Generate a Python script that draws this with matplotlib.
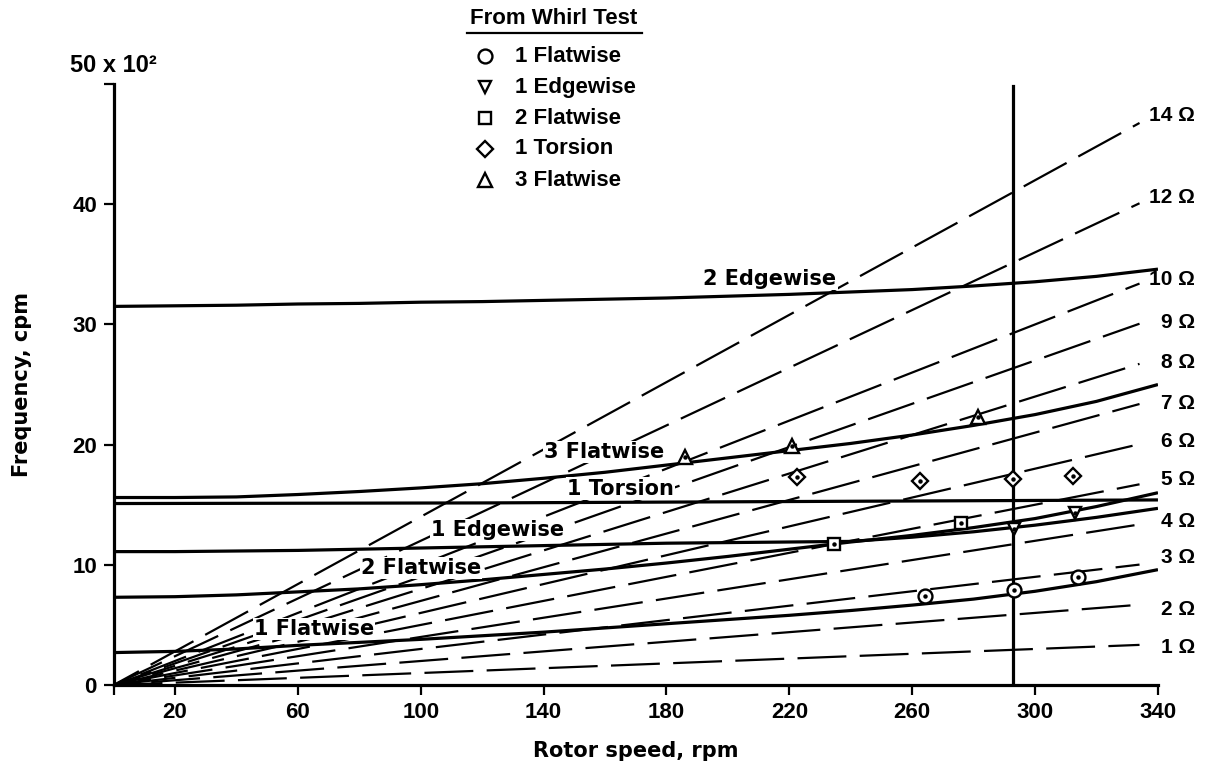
import matplotlib
matplotlib.use("Agg")
import matplotlib.pyplot as plt
from matplotlib.lines import Line2D

plt.rcParams['font.family'] = ['Liberation Sans', 'DejaVu Sans']
plt.rcParams['font.weight'] = 'bold'

# Blade natural frequencies (x 100 cpm) against rotor speed (rpm)
rpm = [0, 20, 40, 60, 80, 100, 120, 140, 160, 180, 200, 220, 240, 260, 280, 300, 320, 340]
flat1 = [2.7, 2.8, 3.0, 3.3, 3.55, 3.8, 4.1, 4.4, 4.75, 5.1, 5.45, 5.8, 6.2, 6.65, 7.15, 7.8, 8.6, 9.6]
flat2 = [7.3, 7.35, 7.5, 7.75, 8.0, 8.35, 8.75, 9.2, 9.65, 10.15, 10.7, 11.3, 11.9, 12.45, 13.1, 13.85, 14.85, 16.0]
edge1 = [11.1, 11.1, 11.15, 11.2, 11.3, 11.4, 11.5, 11.6, 11.7, 11.8, 11.85, 11.9, 11.95, 12.3, 12.75, 13.3, 13.95, 14.7]
flat3 = [15.6, 15.6, 15.65, 15.85, 16.1, 16.4, 16.75, 17.2, 17.7, 18.3, 18.9, 19.5, 20.1, 20.8, 21.6, 22.5, 23.6, 25.0]
edge2 = [31.5, 31.55, 31.6, 31.7, 31.75, 31.85, 31.9, 32.0, 32.1, 32.2, 32.35, 32.5, 32.7, 32.9, 33.2, 33.55, 34.0, 34.6]
torsion_rpm = [0, 120, 250, 340]
torsion1 = [15.1, 15.15, 15.3, 15.4]

# whirl test points
flat1_test_rpm = [264, 293, 314]
flat1_test = [7.4, 7.9, 8.95]
edge1_test_rpm = [293, 313]
edge1_test = [13.0, 14.3]
flat2_test_rpm = [234.5, 276]
flat2_test = [11.7, 13.5]
torsion_test_rpm = [222.5, 262.5, 292.7, 312.5]
torsion_test = [17.3, 17.0, 17.1, 17.4]
flat3_test_rpm = [186, 221, 281.5]
flat3_test = [19.0, 19.9, 22.3]

# per-rev excitation lines
orders = [1, 2, 3, 4, 5, 6, 7, 8, 9, 10, 12, 14]
order_label_y = [3.15, 6.3, 10.6, 13.6, 17.1, 20.3, 23.4, 26.85, 30.2, 33.7, 40.6, 47.4]
order_end_rpm = 334
operating_rpm = 292.7

fig = plt.figure(figsize=(12.11, 7.66), dpi=100)
ax = fig.add_axes([0.0938, 0.1057, 0.8624, 0.7846])
ax.set_xlim(0, 340)
ax.set_ylim(0, 50)

for i, n in enumerate(orders):
    # stagger the dash phase so the gaps don't line up near the origin
    phase = (i * 11) % 28
    ax.plot([0, order_end_rpm], [0, n * order_end_rpm / 100], color='black', lw=1.6,
            linestyle=(phase, (22, 6)), solid_capstyle='butt', zorder=2)

curve_kw = dict(color='black', lw=2.3, zorder=3, solid_capstyle='butt')
ax.plot(rpm, flat1, **curve_kw)
ax.plot(rpm, flat2, **curve_kw)
ax.plot(rpm, edge1, **curve_kw)
ax.plot(rpm, flat3, **curve_kw)
ax.plot(rpm, edge2, **curve_kw)
ax.plot(torsion_rpm, torsion1, **curve_kw)

ax.plot([operating_rpm, operating_rpm], [0, 49.8], color='black', lw=2.3, zorder=3)

tests = [
    (flat1_test_rpm, flat1_test, 'o', 10, '1 Flatwise'),
    (edge1_test_rpm, edge1_test, 'v', 9, '1 Edgewise'),
    (flat2_test_rpm, flat2_test, 's', 8.5, '2 Flatwise'),
    (torsion_test_rpm, torsion_test, 'D', 8.5, '1 Torsion'),
    (flat3_test_rpm, flat3_test, '^', 9.5, '3 Flatwise'),
]
for x, y, m, ms, name in tests:
    ax.plot(x, y, ls='none', marker=m, ms=ms, mfc='white', mec='black', mew=1.7, zorder=5)
    ax.plot(x, y, ls='none', marker='o', ms=2.2, color='black', zorder=6)

# curve names
curve_labels = [
    ('2 Edgewise', 213.7, 33.8),
    ('3 Flatwise', 159.7, 19.35),
    ('1 Torsion', 165.0, 16.35),
    ('1 Edgewise', 125.0, 12.9),
    ('2 Flatwise', 100.0, 9.7),
    ('1 Flatwise', 65.3, 4.65),
]
for text, x, y in curve_labels:
    ax.text(x, y, text, ha='center', va='center', fontsize=15, family='DejaVu Sans',
            fontweight='bold', zorder=4,
            bbox=dict(boxstyle='square,pad=0.05', fc='white', ec='none'))

for n, y in zip(orders, order_label_y):
    ax.text(352, y, f'{n} \u03a9', ha='right', va='center', fontsize=15, clip_on=False)

# axes styling
for side in ['top', 'right']:
    ax.spines[side].set_visible(False)
for side in ['left', 'bottom']:
    ax.spines[side].set_linewidth(2.3)
ax.set_xticks([0, 20, 60, 100, 140, 180, 220, 260, 300, 340])
ax.set_xticklabels(['', '20', '60', '100', '140', '180', '220', '260', '300', '340'])
ax.set_yticks([0, 10, 20, 30, 40, 50])
ax.set_yticklabels(['0', '10', '20', '30', '40', ''])
ax.tick_params(axis='both', direction='out', length=7, width=1.6, labelsize=16, pad=5)
ax.text(0, 50.6, '50 x 10\u00b2', ha='center', va='bottom', fontsize=17)

ax.set_xlabel('Rotor speed, rpm', fontsize=15, family='DejaVu Sans', fontweight='bold', labelpad=13)
ax.set_ylabel('Frequency, cpm', fontsize=15, family='DejaVu Sans', fontweight='bold', labelpad=29)

# legend block
W, H = 1211.0, 766.0
fig.text(554 / W, 1 - 18 / H, 'From Whirl Test', ha='center', va='center', fontsize=16)
fig.add_artist(Line2D([467 / W, 642 / W], [1 - 33 / H, 1 - 33 / H], color='black', lw=1.6))
for i, (_, _, m, ms, name) in enumerate(tests):
    yy = 1 - (56 + 31 * i) / H
    fig.add_artist(Line2D([485 / W], [yy], marker=m, ms=ms, mfc='white', mec='black', mew=1.7, ls='none'))
    fig.text(515 / W, yy, name, ha='left', va='center', fontsize=16)

fig.savefig('out.png', dpi=100)
